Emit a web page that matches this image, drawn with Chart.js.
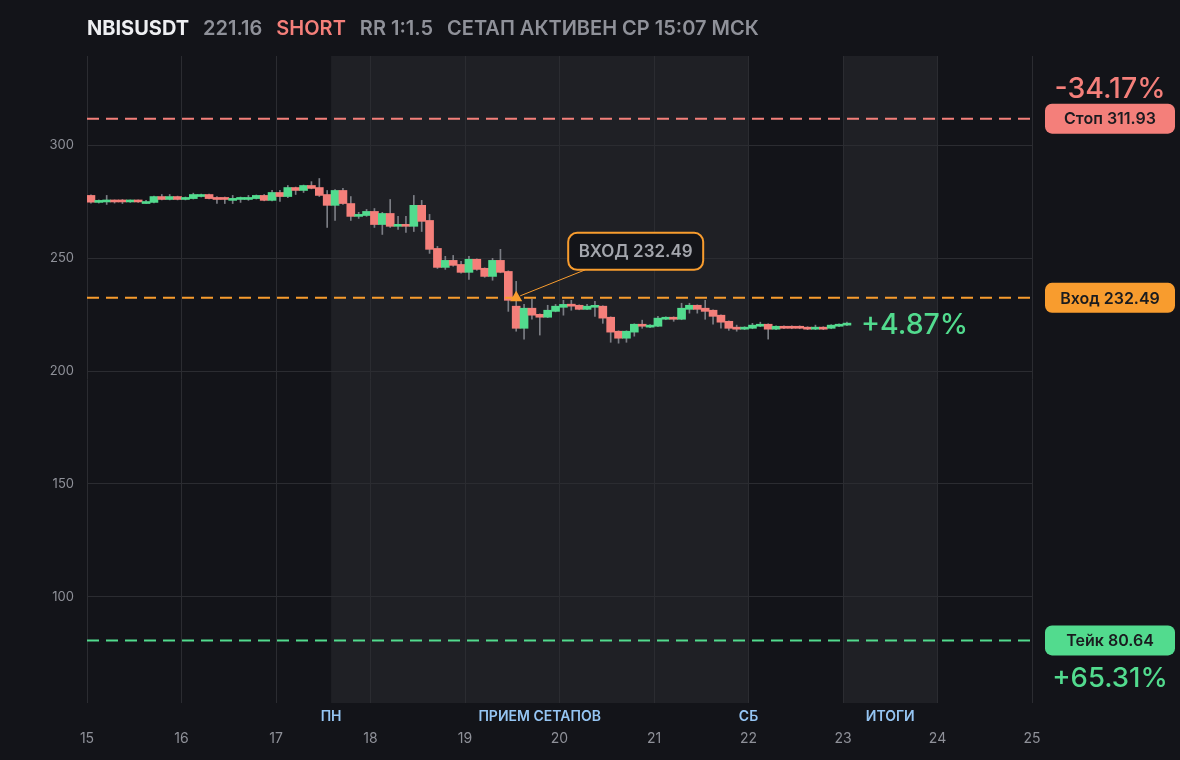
<!DOCTYPE html>
<html><head><meta charset="utf-8">
<script src="https://cdn.jsdelivr.net/npm/chart.js@4.4.1/dist/chart.umd.min.js"></script>
<style>html,body{margin:0;padding:0;background:#131419;}#wrap{width:1180px;height:760px;position:relative}</style>
</head><body><div id="wrap"><canvas id="c"></canvas></div>
<script>
// ---- data ----
const symbol = 'NBISUSDT';
const lastPriceText = '221.16';
const sideText = 'SHORT';
const rrText = 'RR 1:1.5';
const statusText = 'СЕТАП АКТИВЕН СР 15:07 МСК';
const startDay = 15;
const candleHours = 2;
const opens  = [277.9,274.8,275.0,275.7,275.7,275.0,275.7,274.3,274.8,277.4,276.1,277.4,276.1,276.5,277.4,278.3,277.0,277.0,275.7,276.1,276.1,276.5,277.9,275.7,279.2,277.4,281.4,280.1,282.3,281.4,278.3,273.5,280.1,274.3,268.6,269.0,270.8,265.0,269.9,264.2,265.0,264.2,273.5,266.8,254.4,246.0,249.1,247.3,243.8,249.6,245.6,242.0,249.1,244.2,228.8,219.0,227.9,225.2,223.9,226.5,228.3,229.6,229.2,227.4,228.3,228.8,223.9,217.7,214.6,217.3,220.8,219.5,219.9,223.0,223.9,223.0,227.4,229.2,227.9,227.0,224.8,222.1,219.5,218.6,219.0,219.9,220.8,218.6,219.9,219.9,219.9,219.5,218.6,219.5,219.0,219.9,220.4];
const closes = [274.9,275.7,275.7,275.0,275.0,275.7,275.0,275.2,277.4,276.1,277.4,276.1,277.0,278.3,278.3,276.5,276.1,276.1,276.5,277.0,277.0,277.9,275.7,279.2,277.4,281.4,280.1,282.3,281.0,277.9,273.5,280.1,274.3,268.6,269.5,270.8,265.0,269.9,264.2,265.0,264.2,273.5,266.4,254.0,246.0,249.1,246.9,243.8,249.6,245.1,242.0,249.1,243.8,231.4,219.0,227.9,224.8,223.9,227.0,228.8,229.6,228.8,227.4,228.8,228.8,223.5,217.3,214.6,217.7,220.8,219.9,220.4,223.5,223.9,223.0,227.9,229.2,227.4,226.5,224.3,221.7,219.0,218.6,219.5,220.4,220.8,218.6,219.9,219.0,219.0,219.0,218.6,219.5,218.6,220.4,220.8,221.16];
const highs  = [278.2,275.9,277.9,275.9,276.1,275.9,275.9,275.7,277.6,278.3,278.3,277.6,277.2,278.9,278.5,278.5,277.4,277.2,277.9,277.2,277.9,278.1,278.3,280.1,280.1,282.3,281.6,282.5,284.0,285.4,280.1,280.5,281.0,277.4,270.4,271.7,272.1,270.4,276.1,268.6,268.6,277.9,275.7,269.5,255.3,250.9,251.3,248.7,250.9,249.8,245.8,250.0,254.0,244.5,239.8,229.6,231.9,225.4,229.2,229.6,231.4,231.4,229.4,229.6,231.0,229.0,224.1,217.9,217.9,221.0,222.6,220.6,224.3,224.1,224.1,230.1,230.1,229.4,231.4,227.2,225.0,222.3,220.4,219.7,221.2,221.7,221.0,220.1,220.1,220.1,220.1,219.7,220.4,219.7,220.6,221.0,221.8];
const lows   = [274.5,274.5,273.9,274.5,274.3,274.8,274.8,274.3,274.6,275.9,275.9,275.9,275.9,276.3,277.2,276.3,274.3,274.3,274.3,274.8,275.7,276.3,275.5,275.5,275.2,276.9,278.3,279.2,280.8,277.4,263.7,266.8,273.9,266.8,267.7,268.6,263.7,260.6,263.7,262.8,261.5,261.9,261.9,252.2,245.5,245.1,246.5,243.4,240.7,244.7,241.6,240.3,243.6,226.5,217.7,214.2,223.0,216.0,223.7,226.3,224.8,227.0,227.2,227.2,224.3,221.2,212.8,212.4,212.8,215.5,219.0,219.3,219.7,222.8,222.1,222.8,225.7,225.7,223.0,220.8,219.0,218.1,217.7,218.4,218.8,219.7,214.2,218.4,218.8,218.8,218.8,218.4,218.4,218.4,218.8,219.7,220.2];
const stopPrice = 311.93;
const entryPrice = 232.49;
const takePrice = 80.64;
const entryCandle = 54;
const stopText = 'Стоп 311.93';
const entryText = 'Вход 232.49';
const takeText = 'Тейк 80.64';
const calloutText = 'ВХОД 232.49';
const stopPctText = '-34.17%';
const takePctText = '+65.31%';
const currentPctText = '+4.87%';
const yMin = 52.9, yMax = 339.7;
const xMin = 15, xMax = 25;
const bandStarts = [17.583, 23.0];
const bandEnds = [22.0, 24.0];
const sessionNames = ['ПН', 'ПРИЕМ СЕТАПОВ', 'СБ', 'ИТОГИ'];
const sessionAt = [17.583, 19.79, 22.0, 23.5];

// ---- styles ----
const BG = '#131419', BAND = '#1f2025', GRID = '#2b2c31';
const RED = '#f47f7a', GREEN = '#52db8e', ORANGE = '#f89c2e', WICK = '#7b7d84';
const GRAY = '#8f9199', FONT = 'Inter';

const times = opens.map((_, i) => startDay + (i * candleHours + candleHours / 2) / 24);
const bodies = opens.map((o, i) => ({x: times[i], y: [o, closes[i]]}));
const wicks = opens.map((o, i) => ({x: times[i], y: [lows[i], highs[i]]}));
const colors = opens.map((o, i) => closes[i] >= o ? GREEN : RED);

function rr_(ctx, x, y, w, h, r) {
  ctx.beginPath();
  ctx.moveTo(x + r, y);
  ctx.arcTo(x + w, y, x + w, y + h, r);
  ctx.arcTo(x + w, y + h, x, y + h, r);
  ctx.arcTo(x, y + h, x, y, r);
  ctx.arcTo(x, y, x + w, y, r);
  ctx.closePath();
}

const bgPlugin = {
  id: 'bg',
  beforeDraw(chart) {
    const {ctx, chartArea: a, scales: {x}} = chart;
    ctx.save();
    ctx.fillStyle = BG;
    ctx.fillRect(0, 0, chart.width, chart.height);
    ctx.fillStyle = BAND;
    bandStarts.forEach((s, i) => {
      const x0 = x.getPixelForValue(s), x1 = x.getPixelForValue(bandEnds[i]);
      ctx.fillRect(x0, a.top, x1 - x0, a.bottom - a.top);
    });
    ctx.restore();
  }
};

const annPlugin = {
  id: 'ann',
  afterDraw(chart) {
    const {ctx, chartArea: a, scales: {x, y}} = chart;
    ctx.save();
    // title
    ctx.textBaseline = 'middle';
    ctx.textAlign = 'left';
    let tx = a.left;
    const parts = [[symbol, '#eeeff2', '700 20px '], [lastPriceText, GRAY, '600 20px '], [sideText, RED, '600 20px '], [rrText, GRAY, '600 20px '], [statusText, GRAY, '600 20px ']];
    parts.forEach(([t, c, f]) => {
      ctx.font = f + FONT;
      ctx.fillStyle = c;
      ctx.fillText(t, tx, 29);
      tx += ctx.measureText(t).width + 14;
    });
    // session labels
    ctx.font = '600 14px ' + FONT;
    ctx.fillStyle = '#95c5f3';
    ctx.textAlign = 'center';
    sessionNames.forEach((n, i) => ctx.fillText(n, x.getPixelForValue(sessionAt[i]), a.bottom + 14));
    // right labels
    const lx = a.right + 13, lw = 130, lh = 30;
    [[stopPrice, stopText, RED], [entryPrice, entryText, ORANGE], [takePrice, takeText, GREEN]].forEach(([p, t, c]) => {
      const py = y.getPixelForValue(p);
      ctx.fillStyle = c;
      rr_(ctx, lx, py - lh / 2, lw, lh, 7);
      ctx.fill();
      ctx.fillStyle = '#1a1b1f';
      ctx.font = '600 16px ' + FONT;
      ctx.fillText(t, lx + lw / 2, py + 1);
    });
    ctx.font = '500 28.5px ' + FONT;
    ctx.fillStyle = RED;
    ctx.fillText(stopPctText, lx + lw / 2, y.getPixelForValue(stopPrice) - 29);
    ctx.fillStyle = GREEN;
    ctx.font = '500 27.5px ' + FONT;
    ctx.fillText(takePctText, lx + lw / 2, y.getPixelForValue(takePrice) + 38);
    // current pct
    const last = opens.length - 1;
    ctx.textAlign = 'left';
    ctx.font = '500 28.5px ' + FONT;
    ctx.fillText(currentPctText, x.getPixelForValue(times[last]) + 14, y.getPixelForValue(closes[last]) + 2);
    // callout
    const px = x.getPixelForValue(times[entryCandle]), py = y.getPixelForValue(entryPrice);
    ctx.strokeStyle = ORANGE;
    ctx.lineWidth = 1;
    ctx.beginPath();
    ctx.moveTo(px + 4, py - 2);
    ctx.lineTo(px + 69, py - 28);
    ctx.stroke();
    const bx = px + 52, by = py - 65, bw = 135, bh = 37;
    ctx.fillStyle = BG;
    ctx.lineWidth = 2;
    rr_(ctx, bx, by, bw, bh, 9);
    ctx.fill();
    ctx.stroke();
    ctx.fillStyle = '#a4a6ad';
    ctx.font = '600 17px ' + FONT;
    ctx.textAlign = 'center';
    ctx.fillText(calloutText, bx + bw / 2, by + bh / 2 + 1);
    ctx.restore();
  }
};

const levelLine = (p, c) => ({
  type: 'line', data: [{x: xMin, y: p}, {x: xMax, y: p}], borderColor: c, borderWidth: 2,
  borderDash: [12, 7], pointRadius: 0, order: 0
});

new Chart(document.getElementById('c'), {
  type: 'bar',
  data: {
    datasets: [
      {type: 'bar', data: wicks, backgroundColor: WICK, barThickness: 1, grouped: false, order: 3},
      {type: 'bar', data: bodies, backgroundColor: colors, barThickness: 8, minBarLength: 2, grouped: false, order: 2},
      levelLine(stopPrice, RED),
      levelLine(entryPrice, ORANGE),
      levelLine(takePrice, GREEN),
      {type: 'line', data: [{x: times[entryCandle], y: entryPrice}], showLine: false, pointStyle: 'triangle',
       pointRadius: 7, pointBackgroundColor: ORANGE, pointBorderWidth: 0, order: -1}
    ]
  },
  options: {
    responsive: true, maintainAspectRatio: false, animation: false,
    layout: {padding: {top: 56, right: 148, left: 0, bottom: 0}},
    plugins: {legend: {display: false}, tooltip: {enabled: false}},
    events: [],
    scales: {
      x: {
        type: 'linear', min: xMin, max: xMax, offset: false,
        grid: {color: GRID, drawTicks: false, offset: false}, border: {display: false},
        ticks: {stepSize: 1, autoSkip: false, maxRotation: 0, includeBounds: false, padding: 27,
                color: GRAY, font: {family: FONT, size: 14}},
        afterFit(s) { s.height = 57; }
      },
      y: {
        min: yMin, max: yMax,
        grid: {color: GRID, drawTicks: false}, border: {display: false},
        ticks: {stepSize: 50, includeBounds: false, padding: 13, color: GRAY, font: {family: FONT, size: 13}},
        afterFit(s) { s.width = 87; }
      }
    }
  },
  plugins: [bgPlugin, annPlugin]
});
</script></body></html>
